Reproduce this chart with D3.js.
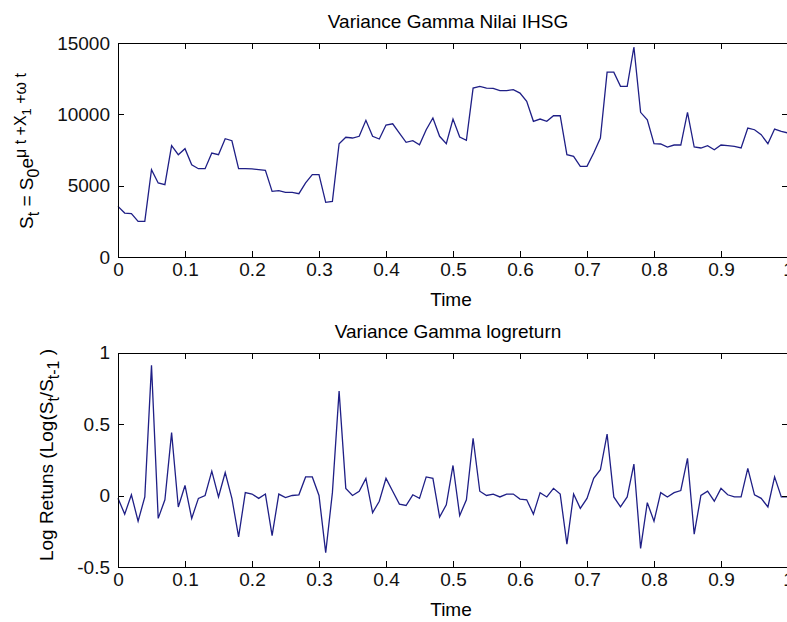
<html><head>
<script src="https://d3js.org/d3.v7.min.js"></script>
<style>
  body { margin: 0; background: #fff; }
  text { font-family: "Liberation Sans", Arial, sans-serif; fill: #000; }
  .axis path, .axis line { stroke: #000; stroke-width: 1px; shape-rendering: crispEdges; }
  .axis text { font-size: 19px; font-family: "Liberation Sans", Arial, sans-serif; fill: #111; }
  .trace { fill: none; stroke: #1f1f86; stroke-width: 1.3px; }
</style>
</head>
<body>
<svg id="fig" width="787" height="622"></svg>
<script>
// sample times (step 0.01)
const times = [0,0.01,0.02,0.03,0.04,0.05,0.06,0.07,0.08,0.09,0.1,0.11,0.12,0.13,0.14,0.15,0.16,0.17,0.18,0.19,
  0.2,0.21,0.22,0.23,0.24,0.25,0.26,0.27,0.28,0.29,0.3,0.31,0.32,0.33,0.34,0.35,0.36,0.37,0.38,0.39,
  0.4,0.41,0.42,0.43,0.44,0.45,0.46,0.47,0.48,0.49,0.5,0.51,0.52,0.53,0.54,0.55,0.56,0.57,0.58,0.59,
  0.6,0.61,0.62,0.63,0.64,0.65,0.66,0.67,0.68,0.69,0.7,0.71,0.72,0.73,0.74,0.75,0.76,0.77,0.78,0.79,
  0.8,0.81,0.82,0.83,0.84,0.85,0.86,0.87,0.88,0.89,0.9,0.91,0.92,0.93,0.94,0.95,0.96,0.97,0.98,0.99,1];

// IHSG value path
const priceValues = [3550,3080,3040,2500,2500,6120,5190,5070,7800,7170,7590,6470,6190,6190,7290,7170,8290,8150,6190,6190,
  6170,6120,6070,4600,4650,4530,4530,4440,5190,5770,5770,3830,3900,7940,8390,8340,8460,9580,8460,8270,
  9250,9340,8690,8040,8150,7870,8920,9740,8460,7940,9670,8410,8180,11840,11960,11840,11820,11660,11660,11730,
  11490,10910,9510,9670,9510,9900,9900,7170,7050,6350,6350,7290,8340,12960,12960,11960,11960,14720,10140,9620,
  7940,7920,7710,7850,7850,10140,7710,7640,7800,7520,7850,7800,7760,7640,9040,8920,8570,7940,8970,8810,8690];

// log returns
const returnValues = [-0.02,-0.13,0.005,-0.18,-0.01,0.91,-0.16,-0.03,0.44,-0.08,0.07,-0.16,-0.02,0,0.17,-0.01,0.16,-0.02,-0.29,0.02,
  0.01,-0.02,0.01,-0.28,0.01,-0.015,0,0.005,0.13,0.13,0,-0.4,0.02,0.73,0.05,0,0.03,0.12,-0.12,-0.04,
  0.12,0.03,-0.06,-0.07,0.005,-0.02,0.13,0.12,-0.15,-0.065,0.21,-0.14,-0.03,0.4,0.03,0,0.01,-0.01,0.01,0.01,
  -0.025,-0.03,-0.13,0.02,-0.01,0.05,0.01,-0.34,0.01,-0.09,-0.02,0.12,0.18,0.43,-0.01,-0.08,-0.01,0.22,-0.37,-0.05,
  -0.18,0.02,-0.01,0.02,0.035,0.26,-0.27,0,0.03,-0.04,0.05,0.005,-0.01,-0.01,0.19,0.005,-0.02,-0.08,0.13,-0.01,-0.01];

const xTicks = [0,0.1,0.2,0.3,0.4,0.5,0.6,0.7,0.8,0.9,1];
const priceTicks = [0,5000,10000,15000];
const returnTicks = [-0.5,0,0.5,1];

const fig = d3.select("svg#fig");
const left = 118, right = 788;
const tickLen = 6;

// one subplot in MATLAB style: box, inward ticks on all sides
function drawPanel(top, bottom, values, yDomain, yTicks, title) {
  const xScale = d3.scaleLinear().domain([0, 1]).range([left, right]);
  const yScale = d3.scaleLinear().domain(yDomain).range([bottom, top]);

  const g = fig.append("g");

  g.append("path")
    .datum(times.map((t, i) => [t, values[i]]))
    .attr("class", "trace")
    .attr("d", d3.line().x(d => xScale(d[0])).y(d => yScale(d[1])));

  g.append("g").attr("class", "axis")
    .attr("transform", "translate(0," + bottom + ")")
    .call(d3.axisBottom(xScale).tickValues(xTicks).tickSizeInner(-tickLen).tickSizeOuter(0)
      .tickPadding(6).tickFormat(d => String(d)));
  g.append("g").attr("class", "axis")
    .attr("transform", "translate(0," + top + ")")
    .call(d3.axisTop(xScale).tickValues(xTicks).tickSizeInner(-tickLen).tickSizeOuter(0).tickFormat(""));
  g.append("g").attr("class", "axis")
    .attr("transform", "translate(" + left + ",0)")
    .call(d3.axisLeft(yScale).tickValues(yTicks).tickSizeInner(-tickLen).tickSizeOuter(0)
      .tickPadding(8).tickFormat(d => String(d)));
  g.append("g").attr("class", "axis")
    .attr("transform", "translate(" + right + ",0)")
    .call(d3.axisRight(yScale).tickValues(yTicks).tickSizeInner(-tickLen).tickSizeOuter(0).tickFormat(""));

  g.append("text")
    .attr("x", 448).attr("y", top - 15)
    .attr("text-anchor", "middle")
    .style("font-size", "19px")
    .text(title);

  g.append("text")
    .attr("x", 451).attr("y", bottom + 49)
    .attr("text-anchor", "middle")
    .style("font-size", "19px")
    .text("Time");

  return g;
}

const topPanel = drawPanel(43, 257, priceValues, [0, 15000], priceTicks, "Variance Gamma Nilai IHSG");
const botPanel = drawPanel(352.5, 567, returnValues, [-0.5, 1], returnTicks, "Variance Gamma logreturn");

// y label, top panel: S_t = S_0 e^{mu t + X_1 + omega t}
const yl1 = topPanel.append("text")
  .attr("transform", "translate(33,151) rotate(-90)")
  .attr("text-anchor", "middle")
  .style("font-size", "19px");
yl1.append("tspan").text("S");
yl1.append("tspan").attr("dy", 6).style("font-size", "16px").text("t");
yl1.append("tspan").attr("dy", -6).text(" = S");
yl1.append("tspan").attr("dy", 6).style("font-size", "16px").text("0");
yl1.append("tspan").attr("dy", -6).text("e");
yl1.append("tspan").attr("dy", -7).style("font-size", "16px").text("\u03bc t +X");
yl1.append("tspan").attr("dy", 5).style("font-size", "13px").text("1");
yl1.append("tspan").attr("dy", -5).style("font-size", "16px").text(" +\u03c9 t");

// y label, bottom panel
const yl2 = botPanel.append("text")
  .attr("transform", "translate(53,455) rotate(-90)")
  .attr("text-anchor", "middle")
  .style("font-size", "19px");
yl2.append("tspan").text("Log Retuns (Log(S");
yl2.append("tspan").attr("dy", 6).style("font-size", "16px").text("t");
yl2.append("tspan").attr("dy", -6).text("/S");
yl2.append("tspan").attr("dy", 6).style("font-size", "16px").text("t-1");
yl2.append("tspan").attr("dy", -6).text(" )");
</script>
</body>
</html>
